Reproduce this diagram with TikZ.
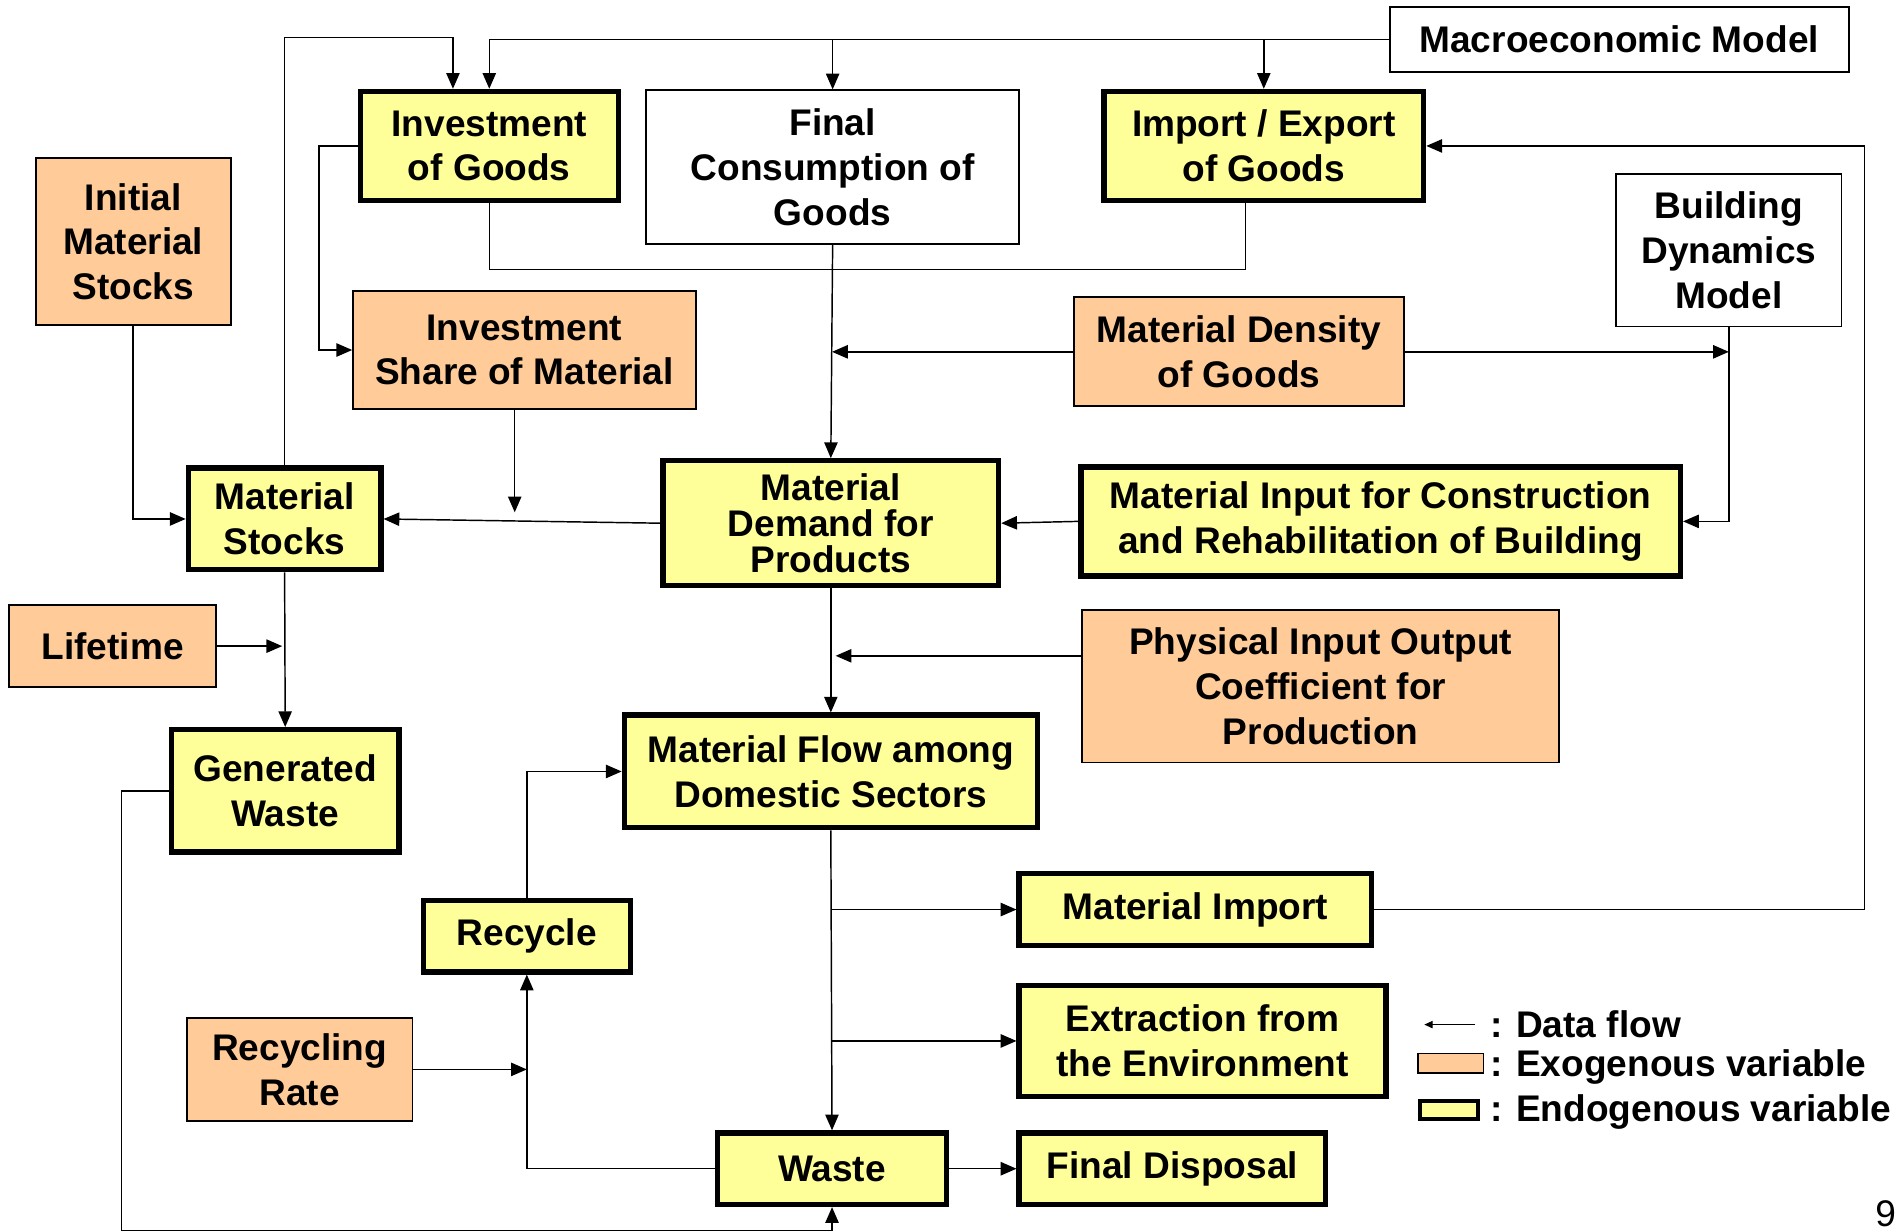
\documentclass[tikz,border=0pt]{standalone}
\usepackage{fontspec}
\setmainfont{Liberation Sans}
\usetikzlibrary{arrows.meta,calc}
\definecolor{endo}{HTML}{FFFF99}
\definecolor{exo}{HTML}{FFCC99}
\begin{document}
\begin{tikzpicture}[x=0.5pt,y=-0.5pt,
  lbl/.style={font=\fontsize{15.3}{18.5}\selectfont\bfseries, align=center},
  sz/.style 2 args={minimum width=#1*0.5pt, minimum height=#2*0.5pt, inner sep=0pt},
  model/.style={lbl, draw=black, line width=0.7pt, fill=white},
  exobox/.style={lbl, draw=black, line width=0.7pt, fill=exo},
  endobox/.style={lbl, draw=black, line width=2.2pt, fill=endo},
  conn/.style={line width=0.6pt},
  arr/.style={conn, -{Triangle[length=6.5pt,width=5.5pt]}}
]
\useasboundingbox (0,0) rectangle (1568,1017);

% nodes
\node[model, sz={379}{54}] (macro) at (1337,32.5) {Macroeconomic Model};
\node[endobox, sz={213}{90}] (inv) at (404,120.5) {Investment\\of Goods};
\node[model, sz={308}{127}] (fcons) at (687.5,138) {Final\\Consumption of\\Goods};
\node[endobox, sz={264}{90}] (impexp) at (1043.5,120.5) {Import / Export\\of Goods};
\node[exobox, sz={161}{138}] (initial) at (110,199.5) {Initial\\Material\\Stocks};
\node[model, sz={186}{126}] (bdm) at (1427.5,206.5) {Building\\Dynamics\\Model};
\node[exobox, sz={283}{97}] (invshare) at (433,289) {Investment\\Share of Material};
\node[exobox, sz={273}{90}] (density) at (1023,290.5) {Material Density\\of Goods};
\node[endobox, sz={159}{84}] (stocks) at (235,428.5) {Material\\Stocks};
\node[endobox, sz={277}{103}, font=\fontsize{15.3}{14.8}\selectfont\bfseries] (demand) at (686,432) {Material\\Demand for\\Products};
\node[endobox, sz={495}{90}] (matinput) at (1140,430.5) {Material Input for Construction\\and Rehabilitation of Building};
\node[exobox, sz={171}{68}] (lifetime) at (93,533.5) {Lifetime};
\node[exobox, sz={394}{126}] (pio) at (1090.5,566.5) {Physical Input Output\\Coefficient for\\Production};
\node[endobox, sz={188}{101}] (genwaste) at (235.5,653) {Generated\\Waste};
\node[endobox, sz={341}{93}] (flow) at (686,637) {Material Flow among\\Domestic Sectors};
\node[endobox, sz={291}{59}] (import) at (987,751) {Material Import};
\node[endobox, sz={171}{59}] (recycle) at (435,773) {Recycle};
\node[endobox, sz={303}{92}] (extraction) at (993,859.5) {Extraction from\\the Environment};
\node[exobox, sz={186}{85}] (rate) at (247.5,883) {Recycling\\Rate};
\node[endobox, sz={189}{59}] (waste) at (687,965) {Waste};
\node[endobox, sz={253}{59}] (disposal) at (968,965) {Final Disposal};

% helper coordinates
\coordinate (m1) at (fcons.north |- macro.west);
\coordinate (m2) at (impexp.north |- macro.west);
\coordinate (invin) at ($(inv.north)+(-30,0)$);
\coordinate (st1) at (235,31);
\coordinate (ie1) at ($(impexp.south)+(-15,0)$);
\coordinate (isfrom) at ($(invshare.south)+(-8,0)$);
\coordinate (isend) at (425,423);
\coordinate (lfend) at (233,533.5);
\coordinate (piofrom) at ($(pio.west)+(0,-25)$);
\coordinate (pioend) at (690,541.5);
\coordinate (dnend) at (687,290.5);

% connectors
\draw[arr] (macro.west) -| (inv.north);
\draw[arr] (m1) -- (fcons.north);
\draw[arr] (m2) -- (impexp.north);
\draw[arr] (stocks.north) |- (st1) -| (invin);
\draw[arr] (inv.west) -- ++(-32,0) |- (invshare.west);
\draw[conn] (inv.south) -- ++(0,55) -| (ie1);
\draw[arr] (fcons.south) -- (demand.north);
\draw[arr] (density.west) -- (dnend);
\draw[arr] (density.east) -- (bdm.south |- density.east);
\draw[arr] (bdm.south) |- (matinput.east);
\draw[arr] (matinput.west) -- (demand.east);
\draw[arr] (demand.west) -- (stocks.east);
\draw[arr] (isfrom) -- (isend);
\draw[arr] (initial.south) |- (stocks.west);
\draw[arr] (stocks.south) -- (genwaste.north);
\draw[arr] (lifetime.east) -- (lfend);
\draw[arr] (demand.south) -- (flow.north);
\draw[arr] (piofrom) -- (pioend);
\draw[arr] (flow.south) -- (waste.north);
\draw[arr] (import.west -| flow.south) -- (import.west);
\draw[arr] (extraction.west -| flow.south) -- (extraction.west);
\draw[arr] (import.east) -| ($(impexp.east)+(362,0)$) -- (impexp.east);
\draw[arr] (waste.west) -| (recycle.south);
\draw[arr] (rate.east) -- (rate.east -| recycle.south);
\draw[arr] (recycle.north) |- (flow.west);
\draw[arr] (genwaste.west) -- ++(-39,0) -- ++(0,363) -| (waste.south);
\draw[arr] (waste.east) -- (disposal.west);

% legend
\coordinate (lg1) at (1218,846);
\coordinate (lg2) at (1176,846);
\draw[conn, -{Triangle[length=3.5pt,width=3pt]}] (lg1) -- (lg2);
\node[lbl, anchor=west, inner sep=0pt] (lgt1) at (1230,846) {: Data flow};
\node[draw=black, line width=0.6pt, fill=exo, minimum width=27pt, minimum height=8pt, inner sep=0pt] (lgexo) at (1198,878) {};
\node[lbl, anchor=west, inner sep=0pt] (lgt2) at (1230,881) {: Exogenous variable};
\node[draw=black, line width=1.6pt, fill=endo, minimum width=24pt, minimum height=7.5pt, inner sep=0pt] (lgendo) at (1196.5,916.5) {};
\node[lbl, anchor=west, inner sep=0pt] (lgt3) at (1230,918) {: Endogenous variable};
\node[font=\fontsize{15.3}{18.5}\selectfont, inner sep=0pt] (pgnum) at (1557,1002) {9};
\end{tikzpicture}
\end{document}
